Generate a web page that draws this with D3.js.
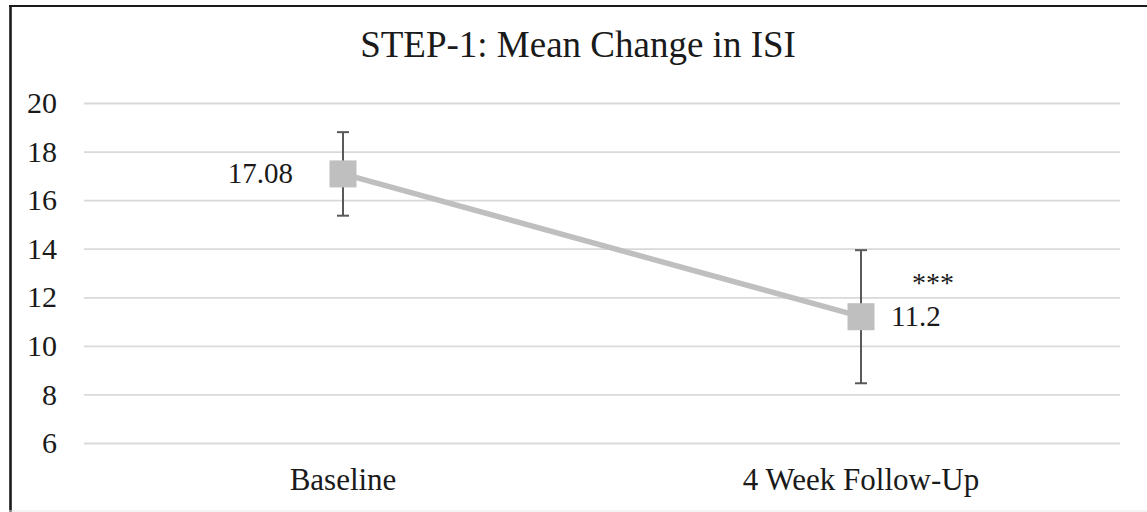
<!DOCTYPE html>
<html>
<head>
<meta charset="utf-8">
<script src="https://cdn.jsdelivr.net/npm/d3@7/dist/d3.min.js"></script>
<style>
html,body{margin:0;padding:0;background:#fff;}
svg{display:block;}
text{font-family:"Liberation Serif","Times New Roman",serif;fill:#1a1a1a;}
</style>
</head>
<body>
<svg id="chart" width="1147" height="512"></svg>
<script>
const categories = ["Baseline", "4 Week Follow-Up"];
const means = [17.08, 11.2];
const errUpper = [18.80, 13.94];
const errLower = [15.36, 8.46];
const valueLabels = ["17.08", "11.2"];
const yTicks = [6, 8, 10, 12, 14, 16, 18, 20];
const title = "STEP-1: Mean Change in ISI";
const sigLabel = "***";

(function () {
const svg = d3.select("#chart");
const W = 1147, H = 512;
const pLeft = 84, pRight = 1120, pTop = 103, pBottom = 443;
const serif = '"Liberation Serif","Times New Roman",serif';

// frame
svg.append("line").attr("x1", 9).attr("x2", W).attr("y1", 6).attr("y2", 6)
  .attr("stroke", "#1a1a1a").attr("stroke-width", 2.2);
svg.append("line").attr("x1", 10.5).attr("x2", 10.5).attr("y1", 5).attr("y2", H)
  .attr("stroke", "#1a1a1a").attr("stroke-width", 2.6);
svg.append("line").attr("x1", 9).attr("x2", W).attr("y1", 511).attr("y2", 511)
  .attr("stroke", "#e6e6e6").attr("stroke-width", 1);

const x = d3.scaleBand().domain(categories).range([pLeft, pRight]);
const y = d3.scaleLinear().domain([6, 20]).range([pBottom, pTop]);
const cx = d => x(d) + x.bandwidth() / 2;

// title
svg.append("text").attr("x", 578).attr("y", 57).attr("text-anchor", "middle")
  .style("font-size", "37px").style("font-family", serif).text(title);

// y axis with gridlines
const yAxis = d3.axisLeft(y).tickValues(yTicks).tickSize(-(pRight - pLeft)).tickPadding(27);
const gy = svg.append("g").attr("transform", `translate(${pLeft},0)`).call(yAxis);
gy.select(".domain").remove();
gy.selectAll(".tick line").attr("stroke", "#d9d9d9").attr("stroke-width", 1.8);
gy.selectAll(".tick text").style("font-size", "30px").attr("fill", "#1a1a1a")
  .style("font-family", serif);

// x axis labels
const xAxis = d3.axisBottom(x).tickSize(0).tickPadding(0);
const gx = svg.append("g").attr("transform", `translate(0,${pBottom})`).call(xAxis);
gx.select(".domain").remove();
gx.selectAll(".tick text").attr("dy", null).attr("y", 47).style("font-size", "31px")
  .attr("fill", "#1a1a1a").style("font-family", serif);

// error bars
const cap = 6;
categories.forEach((c, i) => {
  const g = svg.append("g").attr("stroke", "#595959").attr("stroke-width", 2);
  g.append("line").attr("x1", cx(c)).attr("x2", cx(c)).attr("y1", y(errUpper[i])).attr("y2", y(errLower[i]));
  g.append("line").attr("x1", cx(c) - cap).attr("x2", cx(c) + cap).attr("y1", y(errUpper[i])).attr("y2", y(errUpper[i]));
  g.append("line").attr("x1", cx(c) - cap).attr("x2", cx(c) + cap).attr("y1", y(errLower[i])).attr("y2", y(errLower[i]));
});

// line
const line = d3.line().x((d, i) => cx(categories[i])).y(d => y(d));
svg.append("path").datum(means).attr("d", line).attr("fill", "none")
  .attr("stroke", "#bfbfbf").attr("stroke-width", 5.5);

// markers
const ms = 27;
svg.selectAll("rect.m").data(means).enter().append("rect").attr("class", "m")
  .attr("x", (d, i) => cx(categories[i]) - ms / 2).attr("y", d => y(d) - ms / 2)
  .attr("width", ms).attr("height", ms).attr("fill", "#bfbfbf");

// value labels
svg.append("text").attr("x", cx(categories[0]) - 50).attr("y", y(means[0])).attr("dy", "0.33em")
  .attr("text-anchor", "end").style("font-size", "29px").style("font-family", serif).text(valueLabels[0]);
svg.append("text").attr("x", cx(categories[1]) + 30).attr("y", y(means[1])).attr("dy", "0.33em")
  .attr("text-anchor", "start").style("font-size", "29px").style("font-family", serif).text(valueLabels[1]);

// significance
svg.append("text").attr("x", cx(categories[1]) + 72).attr("y", 292).attr("text-anchor", "middle")
  .style("font-size", "28px").style("font-family", serif).text(sigLabel);
})();
</script>
</body>
</html>
